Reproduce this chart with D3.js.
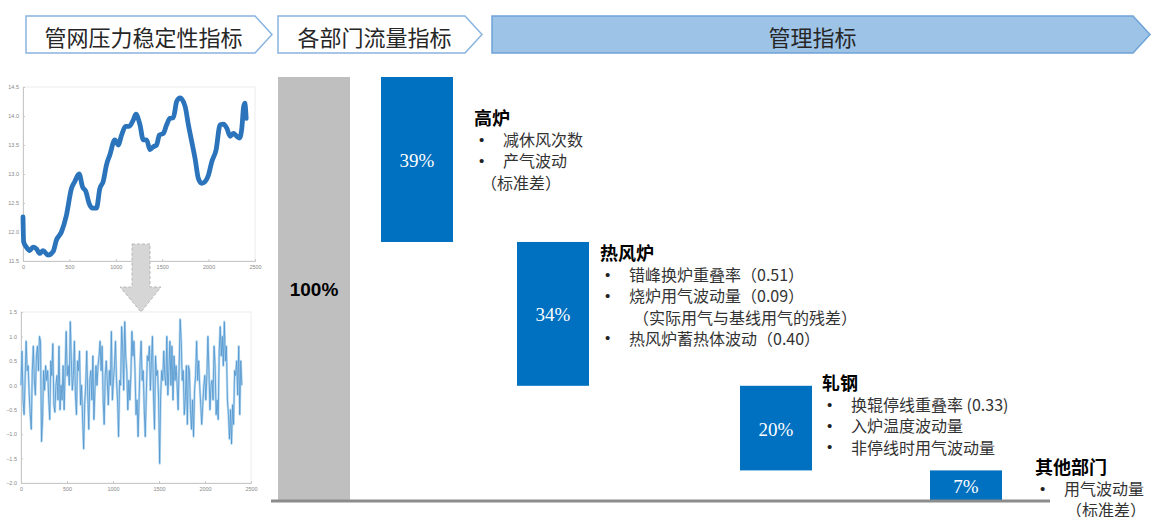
<!DOCTYPE html>
<html>
<head>
<meta charset="utf-8">
<script src="https://cdn.jsdelivr.net/npm/d3@7"></script>
<style>
body { margin: 0; background: #fff; }
svg { display: block; }
</style>
</head>
<body>
<div id="chart"></div>
<script>
// datos:
const stages = ["管网压力稳定性指标", "各部门流量指标", "管理指标"]
const depts = ["总量", "高炉", "热风炉", "轧钢", "其他部门"]
const shares = [100, 39, 34, 20, 7]
const shareLabels = ["100%", "39%", "34%", "20%", "7%"]
const notes = [
  ["• 减休风次数", "• 产气波动", "（标准差）"],
  ["• 错峰换炉重叠率（0.51）", "• 烧炉用气波动量（0.09）", "（实际用气与基线用气的残差）", "• 热风炉蓄热体波动（0.40）"],
  ["• 换辊停线重叠率 (0.33)", "• 入炉温度波动量", "• 非停线时用气波动量"],
  ["• 用气波动量", "（标准差）"]
]

// presión de la red (arriba) y residuo (abajo)
const pressX = [0, 7, 36, 72, 108, 144, 180, 216, 270, 324, 360, 414, 468, 522, 558, 605, 641, 677, 713, 749, 792, 828, 864, 900, 936, 990, 1026, 1062, 1105, 1145, 1188, 1217, 1260, 1296, 1332, 1368, 1404, 1440, 1469, 1512, 1548, 1584, 1620, 1656, 1692, 1746, 1782, 1818, 1854, 1890, 1926, 1962, 1998, 2034, 2081, 2124, 2160, 2196, 2232, 2268, 2304, 2333, 2358, 2376, 2390, 2405]
const pressY = [12.26, 11.83, 11.74, 11.68, 11.74, 11.71, 11.63, 11.68, 11.60, 11.66, 11.86, 12.00, 12.29, 12.75, 12.87, 13.00, 12.78, 12.70, 12.49, 12.41, 12.41, 12.75, 12.87, 13.16, 13.33, 13.59, 13.50, 13.67, 13.82, 13.82, 13.93, 14.03, 13.85, 13.59, 13.59, 13.42, 13.47, 13.50, 13.67, 13.70, 13.85, 13.96, 13.97, 14.25, 14.31, 14.17, 13.85, 13.56, 13.27, 12.92, 12.84, 12.87, 12.98, 13.21, 13.42, 13.85, 13.86, 13.79, 13.65, 13.70, 13.65, 13.62, 13.79, 14.14, 14.22, 13.96]
const pressTicksY = [11.5, 12, 12.5, 13, 13.5, 14, 14.5]
const residY = [0.0, 0.7, -0.3, -0.6, 0.1, 0.9, 0.3, 0.4, -0.2, -0.6, -0.9, 0.3, 0.8, 0.1, -0.2, 0.6, 0.8, 0.3, 1.0, 0.9,
  -1.15, -0.7, 0.3, -0.1, 0.4, 0.1, 0.3, -0.3, -0.7, 0.5, 0.2, 0.85, -0.4, -0.55, 0.0, 0.2, -0.3, 0.8, -0.5, 0.0,
  -0.3, 0.4, -0.5, 0.3, 1.1, 0.2, 0.4, 0.0, 1.3, 0.5, -0.1, 0.2, 0.9, -0.2, -0.6, 0.5, 0.3, 0.7, -0.4, 0.0,
  -0.7, -1.3, -0.4, 0.0, 0.7, -0.2, -0.9, 0.1, 0.3, -0.3, 0.6, -0.7, -0.1, 0.4, 0.0, 0.4, 0.6, 0.9, 0.3, 0.8,
  -0.3, -0.8, 0.2, 0.5, 0.1, -0.4, 0.3, 0.0, 1.1, -0.3, 0.1, 0.4, 0.9, 0.1, -0.3, -1.05, 0.1, 0.0, 1.2, 0.8,
  -0.1, 1.3, 0.6, 0.3, -0.5, 0.1, -0.3, 0.2, 1.1, 0.6, 0.9, 0.3, -0.6, -0.3, -1.05, -0.3, 0.5, 0.9, 0.1, 0.3,
  -0.5, -1.05, -0.2, 0.6, 0.5, 0.8, -0.1, 0.5, 1.0, -0.2, -0.9, 0.6, 0.2, 0.3, -0.3, -1.6, -0.2, 0.3, 0.1, 0.7,
  0.2, 0.0, 1.0, -0.2, 0.3, 0.9, 0.0, 0.8, -0.3, 0.6, 0.1, 0.4, 0.0, -0.5, 0.4, 1.35, 0.9, 0.1, 0.3, -0.6,
  -0.3, 0.4, -0.8, 0.4, 0.3, -0.5, -0.9, -0.3, -1.05, -0.1, 0.2, 0.9, 0.1, 0.5, 0.0, -0.4, -0.8, -0.4, 0.0, 0.2,
  -0.3, 0.2, 1.0, 0.3, -0.5, 0.0, 0.1, -0.3, 0.8, 0.4, -0.6, -0.3, -0.7, 0.7, 1.2, 0.6, 1.0, 0.4, 1.3, 0.5,
  0.8, -0.3, -0.6, -1.1, -0.5, -1.2, -0.4, -0.8, 0.3, 0.2, 0.5, -0.2, 0.8, -0.6, 0.5, 0.0]
const residTicksY = [-2, -1.5, -1, -0.5, 0, 0.5, 1, 1.5]
const sampleTicks = [0, 500, 1000, 1500, 2000, 2500]

// Constantes:
const width = 1152
const height = 517
const cjk = "'Noto Sans CJK SC', 'Noto Sans', sans-serif"

let svg = d3.select('div#chart').append('svg').attr('width', width).attr('height', height)

// cabecera (flechas):
const stageBox = [[26, 255], [278, 465], [492, 1133]]
let head = svg.append('g').attr('id', 'header')
stages.forEach((s, i) => {
  const [x0, x1] = stageBox[i]
  const t0 = 16, b0 = 53, tip = 17
  head.append('path')
    .attr('d', `M${x0},${t0}H${x1}L${x1 + tip},${(t0 + b0) / 2}L${x1},${b0}H${x0}Z`)
    .attr('fill', i === 2 ? '#9dc3e6' : '#fff')
    .attr('stroke', i === 2 ? '#6fa3d8' : '#8ab4e0')
    .attr('stroke-width', 1.5)
  head.append('text')
    .attr('x', (x0 + x1) / 2 + (i === 2 ? 0 : 3)).attr('y', (t0 + b0) / 2 + 1)
    .attr('text-anchor', 'middle').attr('dominant-baseline', 'central')
    .attr('font-family', cjk).attr('font-size', 22).attr('fill', '#262626')
    .text(s)
})

// gráficos pequeños de la izquierda
function smallChart(id, xr, yr, yDom, yTicks) {
  let g = svg.append('g').attr('id', id)
  let x = d3.scaleLinear().domain([0, 2500]).range(xr)
  let y = d3.scaleLinear().domain(yDom).range(yr)
  g.append('rect').attr('x', xr[0]).attr('y', yr[1]).attr('width', xr[1] - xr[0]).attr('height', yr[0] - yr[1])
    .attr('fill', 'none').attr('stroke', '#ececec')
  let xAxis = d3.axisBottom(x).tickValues(sampleTicks).tickFormat(d3.format('d')).tickSize(-2).tickPadding(4)
  let yAxis = d3.axisLeft(y).tickValues(yTicks).tickSize(-2).tickPadding(4)
  g.append('g').attr('transform', `translate(0,${yr[0]})`).call(xAxis)
  g.append('g').attr('transform', `translate(${xr[0]},0)`).call(yAxis)
  g.selectAll('.domain').attr('stroke', '#c8c8c8')
  g.selectAll('.tick line').attr('stroke', '#c8c8c8')
  g.selectAll('.tick text').attr('font-size', 5.5).attr('fill', '#888').attr('font-family', 'Liberation Sans')
  return { g, x, y }
}

let pressChart = smallChart('pressChart', [23, 255], [261, 87], [11.5, 14.5], pressTicksY)
pressChart.g.append('path').datum(pressX.map((d, i) => [d, pressY[i]]))
  .attr('fill', 'none').attr('stroke', '#2b74bc').attr('stroke-width', 4.8)
  .attr('stroke-linejoin', 'round').attr('stroke-linecap', 'round')
  .attr('d', d3.line().x(d => pressChart.x(d[0])).y(d => pressChart.y(d[1])).curve(d3.curveMonotoneX))

let residChart = smallChart('residChart', [21, 251], [483, 312], [-2, 1.5], residTicksY)
let idx = d3.scaleLinear().domain([0, residY.length - 1]).range([0, 2400])
let residLine = d3.line().x((d, i) => residChart.x(idx(i))).y(d => residChart.y(d))
residChart.g.append('path').datum(residY).attr('fill', 'none').attr('stroke', '#b9dbf3')
  .attr('stroke-width', 2.4).attr('stroke-linejoin', 'round').attr('d', residLine)
residChart.g.append('path').datum(residY).attr('fill', 'none').attr('stroke', '#4f93cc')
  .attr('stroke-width', 0.8).attr('stroke-linejoin', 'round').attr('d', residLine)

// flecha gris entre los dos gráficos
svg.append('path')
  .attr('d', 'M132,244H150V287H161L141,312L120,287H132Z')
  .attr('fill', '#d6d6d6').attr('stroke', '#b8b8b8').attr('stroke-dasharray', '3,2')

// escalas de la cascada:
let x = d3.scaleOrdinal().domain(depts).range([278, 381, 517, 740, 930])
const barW = 72
let y = d3.scaleLinear().domain([0, 100]).range([500, 77])
let cum = 100
let bars = depts.map((d, i) => {
  if (i === 0) return { name: d, v: shares[i], lo: 0, hi: shares[i], label: shareLabels[i] }
  let b = { name: d, v: shares[i], lo: cum - shares[i], hi: cum, label: shareLabels[i] }
  cum -= shares[i]
  return b
})

let elementGroup = svg.append('g').attr('id', 'elementGroup')
elementGroup.selectAll('rect').data(bars).enter().append('rect')
  .attr('x', d => x(d.name)).attr('width', barW)
  .attr('y', d => y(d.hi)).attr('height', d => y(d.lo) - y(d.hi))
  .attr('fill', (d, i) => i === 0 ? '#bfbfbf' : '#0070c0')

elementGroup.selectAll('text.pct').data(bars).enter().append('text').attr('class', 'pct')
  .attr('x', d => x(d.name) + barW / 2).attr('y', d => (y(d.lo) + y(d.hi)) / 2 + 1)
  .attr('text-anchor', 'middle').attr('dominant-baseline', 'central')
  .attr('font-family', (d, i) => i === 0 ? 'Liberation Sans' : 'Liberation Serif')
  .attr('font-weight', (d, i) => i === 0 ? 'bold' : 'normal')
  .attr('font-size', 19)
  .attr('fill', (d, i) => i === 0 ? '#000' : '#fff')
  .text(d => d.label)

// línea base
svg.append('line').attr('x1', 271).attr('x2', 1050).attr('y1', y(0) + 1).attr('y2', y(0) + 1)
  .attr('stroke', '#8c8c8c').attr('stroke-width', 3)

// notas de cada departamento
const noteX = [474, 600, 822, 1035]
const noteY = [117, 252, 382, 466]
const contShift = [-22, 4, 0, 2]
let noteGroup = svg.append('g').attr('id', 'notes')
depts.slice(1).forEach((d, i) => {
  let g = noteGroup.append('g')
  g.append('text').attr('x', noteX[i]).attr('y', noteY[i]).attr('dominant-baseline', 'central')
    .attr('font-family', cjk).attr('font-weight', 'bold').attr('font-size', 18).attr('fill', '#000')
    .text(d)
  notes[i].forEach((t, j) => {
    const ly = noteY[i] + 22 + j * 21.3
    const bullet = t.startsWith('•')
    const tx = noteX[i] + 29
    if (bullet) {
      g.append('text').attr('x', noteX[i] + 5).attr('y', ly).attr('dominant-baseline', 'central')
        .attr('font-family', 'Liberation Sans').attr('font-size', 15).attr('fill', '#222').text('•')
    }
    g.append('text').attr('x', bullet ? tx : tx + contShift[i]).attr('y', ly).attr('dominant-baseline', 'central')
      .attr('font-family', cjk).attr('font-size', 16).attr('fill', '#333')
      .text(bullet ? t.slice(2) : t)
  })
})
</script>
</body>
</html>
